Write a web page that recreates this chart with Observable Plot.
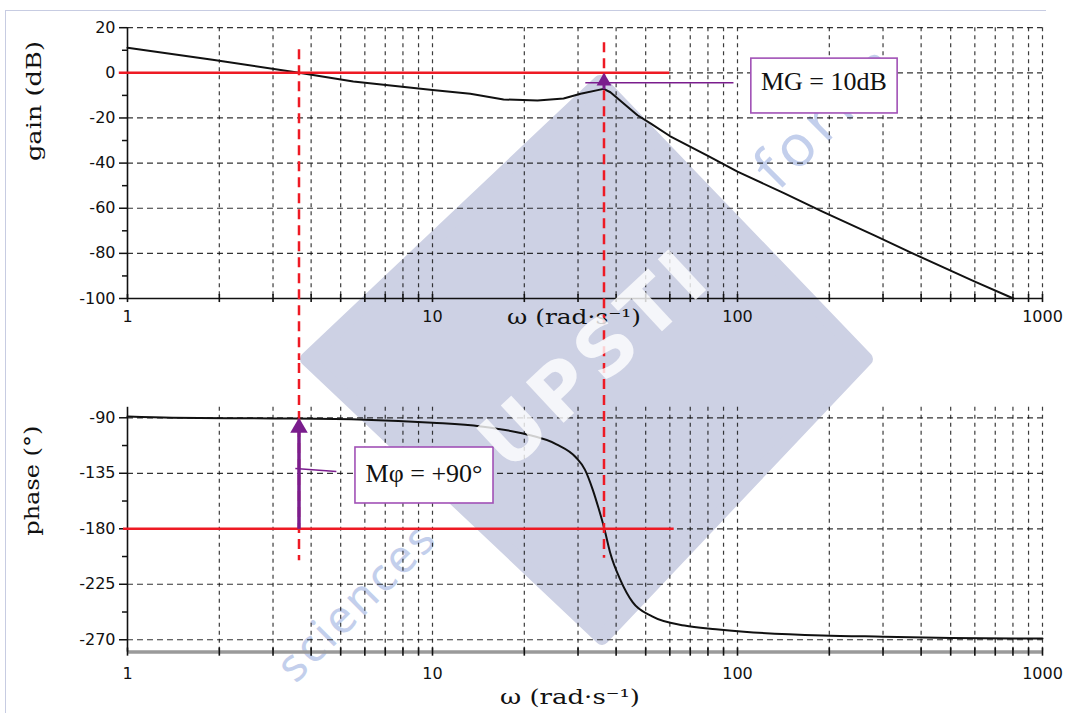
<!DOCTYPE html>
<html>
<head>
<meta charset="utf-8">
<script src="https://cdn.jsdelivr.net/npm/d3@7"></script>
<script src="https://cdn.jsdelivr.net/npm/@observablehq/plot@0.6"></script>
<style>
  html, body { margin: 0; padding: 0; background: #fff; }
  #wrap { position: relative; width: 1070px; height: 713px; overflow: hidden; background: #fff; }
  #frame { position: absolute; left: 5px; top: 10px; width: 1040px; height: 720px;
           border-left: 1.5px solid #c7cce2; border-top: 1.5px solid #c7cce2; }
  .layer { position: absolute; left: 0; top: 0; pointer-events: none; }
  #gain { position: absolute; left: 0; top: 0; }
  #phase { position: absolute; left: 0; top: 360px; }
  svg { overflow: hidden; }
</style>
</head>
<body>
<div id="wrap">
  <svg class="layer" width="1070" height="713">
    <polygon points="307,359 600,82 866,359 602,638" fill="#cdd1e4" stroke="#cdd1e4" stroke-width="14" stroke-linejoin="round"/>
    <text x="440" y="540" transform="rotate(-45 440 540)" text-anchor="end"
          font-family="Noto Sans" font-size="46" letter-spacing="3" fill="#c3cfec">sciences</text>
    <text x="778" y="192" transform="rotate(-45 778 192)" text-anchor="start"
          font-family="Noto Sans" font-size="58" letter-spacing="6" fill="#c3cfec">forim</text>
  </svg>
  <div id="frame"></div>
  <div id="gain"></div>
  <div id="phase"></div>
  <svg class="layer" width="1070" height="713">
    <text x="598" y="362" transform="rotate(-43 598 362)" text-anchor="middle" dominant-baseline="middle"
          font-family="DejaVu Sans" font-weight="bold" font-size="76" letter-spacing="6" fill="#ffffff" fill-opacity="0.8">UPSTI</text>
  </svg>
</div>
<script>
// ---------- data ----------
const omegaTicks = [1, 10, 100, 1000];
const omegaGrid = [2, 3, 4, 5, 6, 7, 8, 9, 10, 20, 30, 40, 50, 60, 70, 80, 90, 100,
                   200, 300, 400, 500, 600, 700, 800, 900, 1000];
const omegaAxisTicks = [1, 2, 3, 4, 5, 6, 7, 8, 9, 10, 20, 30, 40, 50, 60, 70, 80, 90, 100,
                        200, 300, 400, 500, 600, 700, 800, 900, 1000];

const gainTicks = [20, 0, -20, -40, -60, -80, -100];
const gainGrid = [20, 0, -20, -40, -60, -80];
const gainMinorTicks = [10, -10, -30, -50, -70, -90];

const phaseTicks = [-90, -135, -180, -225, -270];
const phaseMinorTicks = [-112.5, -157.5, -202.5, -247.5];

const gainOmega = [1, 1.9, 3.65, 5.5, 10, 13.3, 17.1, 22.1, 26.9, 30.6, 36.4, 38.3, 47, 52, 60, 80, 100, 142, 190, 281, 375, 600, 803];
const gainDb    = [11.1, 5.8, 0, -3.8, -7.6, -9.3, -11.8, -12.3, -11.4, -9.3, -7.1, -8.6, -18.8, -22.5, -28, -36.8, -43.8, -53.3, -61.5, -72, -80, -92.5, -100];

const phaseOmega = [1, 1.4, 3, 6, 10, 14.4, 20, 25.5, 29.5, 31.6, 33.5, 35, 36.6, 38.2, 41.4, 45.3, 52.5, 67, 85, 105, 190, 300, 500, 1000];
const phaseDeg   = [-89, -90, -90.5, -91.5, -94, -97, -103, -111.5, -122, -132, -148, -163, -180, -199, -222, -239.5, -251, -258.5, -261.5, -263.5, -266.5, -267.5, -268.5, -269];

// crossover pulsations (red dashed verticals) : start in gain panel, end in phase panel
const crossovers = [
  {omega: 3.65, gainTop: 10.2, phaseBottom: -206},
  {omega: 36.5, gainTop: 13.3, phaseBottom: -204}
];
const gainRef  = [{value: 0,    from: 0.94, to: 60}];
const phaseRef = [{value: -180, from: 0.97, to: 62}];

const gainArrow  = [{omega: 36.5, from: -7.3, to: 0}];
const phaseArrow = [{omega: 3.65, from: -180, to: -90}];

const gainBox  = [{text: "MG = 10dB", omega1: 111, omega2: 335, lo: -18, hi: 6.3, textOmega: 192, textVal: -3.9}];
const phaseBox = [{text: "Mφ = +90°", omega1: 5.59, omega2: 15.85, lo: -159.5, hi: -114.1, textOmega: 9.38, textVal: -135}];
const gainLeader  = [{omega1: 31.7, omega2: 97, v1: -4.4, v2: -4.4}];
const phaseLeader = [{omega1: 3.55, omega2: 4.84, v1: -131.1, v2: -133.5}];

const gainYLabel = "gain (dB)";
const phaseYLabel = "phase (°)";
const xLabel = "ω (rad·s⁻¹)";

// ---------- styles ----------
const red = "#ee1a24";
const purple = "#7a1d8d";
const boxPurple = "#a151b6";
const ink = "#111";
const gridV = {stroke: "#111", strokeOpacity: 0.82, strokeWidth: 1.2, strokeDasharray: "4,4"};
const gridH = {stroke: "#111", strokeOpacity: 0.85, strokeWidth: 1.2, strokeDasharray: "6,4"};
const tickFont = "DejaVu Sans";
const serif = "Liberation Serif";
const titleFont = "DejaVu Serif";

const gainData = gainOmega.map((w, i) => ({w, v: gainDb[i]}));
const phaseData = phaseOmega.map((w, i) => ({w, v: phaseDeg[i]}));

const gainPlot = Plot.plot({
  width: 1070, height: 360,
  marginLeft: 127, marginRight: 28, marginTop: 27.2, marginBottom: 62,
  x: {type: "log", domain: [1, 1000]},
  y: {domain: [-100, 20]},
  style: {background: "transparent", overflow: "hidden"},
  marks: [
    Plot.gridX(omegaGrid, gridV),
    Plot.gridY(gainGrid, gridH),
    Plot.ruleY([-100], {stroke: ink, strokeWidth: 1.6}),
    Plot.ruleX([1], {stroke: ink, strokeWidth: 1.6}),
    Plot.ruleX(omegaAxisTicks, {x: d => d, y1: -101.8, y2: -98.2, stroke: ink, strokeWidth: 1.6}),
    Plot.axisX(omegaTicks, {tickSize: 0, tickPadding: 12, fontSize: 16, fontFamily: tickFont, fill: "#111", tickFormat: d => String(d), label: null}),
    Plot.axisY(gainTicks, {tickSize: 8, tickPadding: 4, fontSize: 16, fontFamily: tickFont, fill: "#111", stroke: ink, strokeWidth: 1.5, tickFormat: d => String(d), label: null}),
    Plot.axisY(gainMinorTicks, {tickSize: 5, stroke: ink, strokeWidth: 1.5, tickFormat: () => "", label: null}),
    Plot.line(gainData, {x: "w", y: "v", stroke: ink, strokeWidth: 2}),
    Plot.ruleY(gainRef, {y: "value", x1: "from", x2: "to", stroke: red, strokeWidth: 2.5}),
    Plot.ruleX(crossovers, {x: "omega", y1: "gainTop", y2: () => -200, stroke: red, strokeWidth: 2.5, strokeDasharray: "10,6"}),
    Plot.link(gainArrow, {x1: "omega", x2: "omega", y1: "from", y2: d => d.to - 3, stroke: purple, strokeWidth: 3}),
    Plot.dot(gainArrow, {x: "omega", y: "to", symbol: "triangle", r: 5.5, fill: purple, dy: 8.5}),
    Plot.link(gainLeader, {x1: "omega1", x2: "omega2", y1: "v1", y2: "v2", stroke: purple, strokeWidth: 1.6}),
    Plot.rect(gainBox, {x1: "omega1", x2: "omega2", y1: "lo", y2: "hi", fill: "white", stroke: boxPurple, strokeWidth: 1.6}),
    Plot.text(gainBox, {x: "textOmega", y: "textVal", text: "text", fontSize: 26, fontFamily: serif, fill: "#111"}),
    Plot.text([gainYLabel], {frameAnchor: "left", dx: -93, dy: -2, rotate: -90, fontSize: 21, fontFamily: titleFont, fill: "#111"}),
    Plot.text([xLabel], {frameAnchor: "bottom", dx: -11, dy: 25, fontSize: 21, fontFamily: titleFont, fill: "#111"})
  ]
});

const phasePlot = Plot.plot({
  width: 1070, height: 353,
  marginLeft: 127, marginRight: 28, marginTop: 46.8, marginBottom: 61.4,
  x: {type: "log", domain: [1, 1000]},
  y: {domain: [-280, -81.5]},
  style: {background: "transparent", overflow: "hidden"},
  marks: [
    Plot.gridX(omegaGrid, gridV),
    Plot.gridY(phaseTicks, gridH),
    Plot.ruleY([-280], {stroke: "#9a9a9a", strokeWidth: 3.5}),
    Plot.ruleX([1], {stroke: ink, strokeWidth: 1.6}),
    Plot.ruleX(omegaAxisTicks, {x: d => d, y1: -283.3, y2: -276.7, stroke: ink, strokeWidth: 1.6}),
    Plot.axisX(omegaTicks, {tickSize: 0, tickPadding: 16, fontSize: 16, fontFamily: tickFont, fill: "#111", tickFormat: d => String(d), label: null}),
    Plot.axisY(phaseTicks, {tickSize: 8, tickPadding: 4, fontSize: 16, fontFamily: tickFont, fill: "#111", stroke: ink, strokeWidth: 1.5, tickFormat: d => String(d), label: null}),
    Plot.axisY(phaseMinorTicks, {tickSize: 5, stroke: ink, strokeWidth: 1.5, tickFormat: () => "", label: null}),
    Plot.line(phaseData, {x: "w", y: "v", stroke: ink, strokeWidth: 2, curve: "monotone-x"}),
    Plot.ruleY(phaseRef, {y: "value", x1: "from", x2: "to", stroke: red, strokeWidth: 2.5}),
    Plot.ruleX(crossovers, {x: "omega", y1: () => -20, y2: "phaseBottom", stroke: red, strokeWidth: 2.5, strokeDasharray: "10,6"}),
    Plot.link(phaseArrow, {x1: "omega", x2: "omega", y1: "from", y2: d => d.to - 6, stroke: purple, strokeWidth: 3.5}),
    Plot.dot(phaseArrow, {x: "omega", y: "to", symbol: "triangle", r: 6.5, fill: purple, dy: 10}),
    Plot.link(phaseLeader, {x1: "omega1", x2: "omega2", y1: "v1", y2: "v2", stroke: purple, strokeWidth: 1.6}),
    Plot.rect(phaseBox, {x1: "omega1", x2: "omega2", y1: "lo", y2: "hi", fill: "white", stroke: boxPurple, strokeWidth: 1.6}),
    Plot.text(phaseBox, {x: "textOmega", y: "textVal", text: "text", fontSize: 26, fontFamily: serif, fill: "#111"}),
    Plot.text([phaseYLabel], {frameAnchor: "left", dx: -95, dy: 6, rotate: -90, fontSize: 21, fontFamily: titleFont, fill: "#111"}),
    Plot.text([xLabel], {frameAnchor: "bottom", dx: -15, dy: 52, fontSize: 21, fontFamily: titleFont, fill: "#111"})
  ]
});

document.getElementById("gain").appendChild(gainPlot);
document.getElementById("phase").appendChild(phasePlot);

// stretch the axis titles to the length they have in the reference
function stretch(svg, str, len) {
  d3.select(svg).selectAll("text")
    .filter(function () { return this.textContent === str; })
    .attr("textLength", len).attr("lengthAdjust", "spacingAndGlyphs");
}
stretch(gainPlot, gainYLabel, 120);
stretch(phasePlot, phaseYLabel, 110);
stretch(gainPlot, xLabel, 134);
stretch(phasePlot, xLabel, 140);
</script>
</body>
</html>
